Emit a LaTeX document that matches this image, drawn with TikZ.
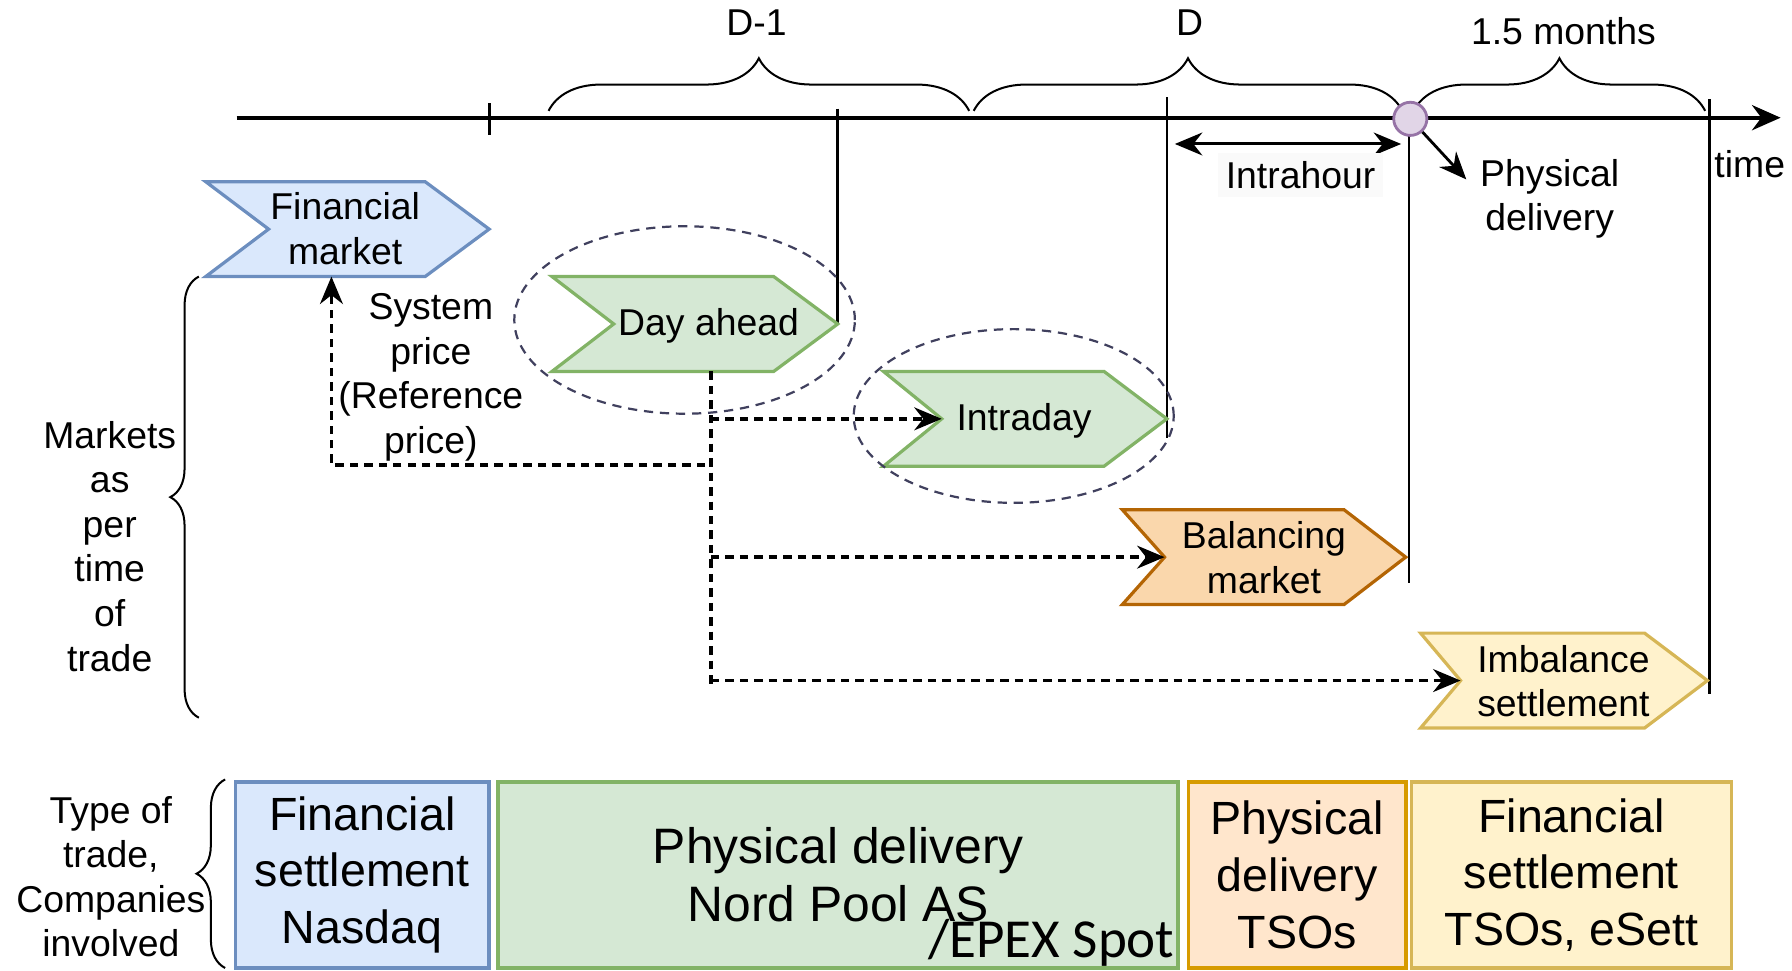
\documentclass[tikz,border=0pt]{standalone}
\usepackage{fontspec}
\setmainfont{Liberation Sans}
\newfontfamily\calibri{Carlito}
\usetikzlibrary{arrows.meta,decorations.pathreplacing}
\definecolor{finfill}{HTML}{DAE8FC}
\definecolor{finline}{HTML}{6C8EBF}
\definecolor{grnfill}{HTML}{D5E8D4}
\definecolor{grnline}{HTML}{82B366}
\definecolor{orgfill}{HTML}{FAD7AC}
\definecolor{orgline}{HTML}{B46504}
\definecolor{tsofill}{HTML}{FFE6CC}
\definecolor{tsoline}{HTML}{D79B00}
\definecolor{yelfill}{HTML}{FFF2CC}
\definecolor{yelline}{HTML}{D6B656}
\definecolor{purfill}{HTML}{E1D5E7}
\definecolor{purline}{HTML}{9673A6}
\definecolor{ringc}{HTML}{40405E}
\tikzset{
  chev/.style={line width=0.8pt,line join=miter},
  lbl/.style={align=center,inner sep=1pt},
  flow/.style={dash pattern=on 2.1pt off 1.5pt,line width=0.85pt},
  ring/.style={draw=ringc,dash pattern=on 2.3pt off 1.7pt,line width=0.55pt},
  curly/.style={decorate,decoration={brace,amplitude=#1},line width=0.5pt},
  boxsmall/.style={draw,line width=0.9pt,align=center,inner sep=0pt,font=\fontsize{11.6}{14.1}\selectfont},
}

\begin{document}
\begin{tikzpicture}[>={Stealth[length=2.4mm,width=2mm]},font=\fontsize{9.3}{11.1}\selectfont,line cap=butt]
\useasboundingbox (0,0) rectangle (15.68,8.49);
% time axis
\draw[line width=0.9pt,-{Stealth[length=2.5mm,width=2.2mm]}] (2.07,7.46) -- (15.58,7.46);
\draw[line width=0.7pt] (4.28,7.31) -- (4.28,7.59);
\node[lbl] (time) at (15.31,7.05) {time};
\draw[curly=0.46cm] (4.80,7.52) -- (8.48,7.52);
\draw[curly=0.46cm] (8.52,7.52) -- (12.27,7.52);
\draw[curly=0.46cm] (12.37,7.52) -- (14.92,7.52);
\node[lbl] (dm1) at (6.62,8.29) {D-1};
\node[lbl] (dday) at (10.41,8.29) {D};
\node[lbl] (months) at (13.68,8.22) {1.5 months};
% gate closures
\draw[line width=0.7pt] (7.33,7.54) -- (7.33,5.66);
\draw[line width=0.6pt] (10.21,7.64) -- (10.21,4.66);
\draw[line width=0.6pt] (12.33,7.46) -- (12.33,3.39);
\draw[line width=0.7pt] (14.96,7.62) -- (14.96,2.42);
\node[circle,draw=purline,fill=purfill,line width=0.7pt,minimum size=0.29cm,inner sep=0pt] (deliv) at (12.34,7.45) {};
\coordinate (pdtip) at (12.83,6.92);
\draw[->,line width=0.7pt] (deliv) -- (pdtip);
\node[lbl] (physdel) at (13.56,6.75) {Physical\\delivery};
\coordinate (ihl) at (10.28,7.23);
\coordinate (ihr) at (12.26,7.23);
\draw[<->,line width=0.75pt] (ihl) -- (ihr);
\node[lbl,fill=gray!4,inner sep=2pt] (intrahour) at (11.38,6.96) {Intrahour};
% markets
\filldraw[chev,fill=finfill,draw=finline] (1.80,6.90) -- (3.72,6.90) -- (4.28,6.485) -- (3.72,6.07) -- (1.80,6.07) -- (2.35,6.485) -- cycle;
\node[lbl] (fin) at (3.02,6.49) {Financial\\market};
\coordinate (finout) at (2.90,6.07);
\filldraw[chev,fill=grnfill,draw=grnline] (4.83,6.07) -- (6.77,6.07) -- (7.33,5.655) -- (6.77,5.24) -- (4.83,5.24) -- (5.37,5.655) -- cycle;
\node[lbl] (dayahead) at (6.20,5.64) {Day ahead};
\filldraw[chev,fill=grnfill,draw=grnline] (7.73,5.24) -- (9.66,5.24) -- (10.21,4.825) -- (9.66,4.41) -- (7.73,4.41) -- (8.24,4.825) -- cycle;
\node[lbl] (intraday) at (8.96,4.81) {Intraday};
\coordinate (intrain) at (8.24,4.825);
\filldraw[chev,fill=orgfill,draw=orgline] (9.82,4.03) -- (11.76,4.03) -- (12.30,3.615) -- (11.76,3.20) -- (9.82,3.20) -- (10.19,3.615) -- cycle;
\node[lbl] (balancing) at (11.06,3.61) {Balancing\\market};
\coordinate (balin) at (10.19,3.615);
\filldraw[chev,fill=yelfill,draw=yelline] (12.43,2.95) -- (14.39,2.95) -- (14.94,2.535) -- (14.39,2.12) -- (12.43,2.12) -- (12.78,2.535) -- cycle;
\node[lbl] (imbalance) at (13.68,2.53) {Imbalance\\settlement};
\coordinate (imbin) at (12.78,2.535);
\draw[ring] (5.99,5.69) ellipse (1.49 and 0.82);
\draw[ring] (8.87,4.85) ellipse (1.40 and 0.76);
% day ahead price flows
\coordinate (hub) at (6.22,5.24);
\coordinate (hubend) at (6.22,2.49);
\coordinate (ref) at (6.17,4.42);
\draw[flow] (hub) -- (hubend);
\draw[flow,->] (ref) -| (finout);
\draw[flow,->] (hub |- intrain) -- (intrain);
\draw[flow,->] (hub |- balin) -- (balin);
\draw[flow,->] (hub |- imbin) -- (imbin);
\node[lbl] (sysprice) at (3.77,5.19) {System\\price\\(Reference\\price)};
\node[lbl] (markets) at (0.96,3.71) {Markets\\as\\per\\time\\of\\trade};
\draw[curly=0.25cm] (1.74,2.21) -- (1.74,6.07);
% companies
\node[lbl] (trade) at (0.97,0.82) {Type of\\trade,\\Companies\\involved};
\draw[curly=0.25cm] (1.97,0.02) -- (1.97,1.67);
\node[boxsmall,draw=finline,fill=finfill,minimum width=2.22cm,minimum height=1.63cm] (nasdaq) at (3.17,0.835) {Financial\\settlement\\Nasdaq};
\node[boxsmall,draw=grnline,fill=grnfill,minimum width=5.95cm,minimum height=1.63cm,font=\fontsize{12.4}{14.5}\selectfont] (nordpool) at (7.335,0.835) {Physical delivery\\Nord Pool AS};
\node[inner sep=0pt,font=\calibri\fontsize{13.7}{15}\selectfont] (epex) at (9.20,0.24) {/EPEX Spot};
\node[boxsmall,draw=tsoline,fill=tsofill,minimum width=1.90cm,minimum height=1.63cm] (tsos) at (11.35,0.835) {Physical\\delivery\\TSOs};
\node[boxsmall,draw=yelline,fill=yelfill,minimum width=2.80cm,minimum height=1.63cm] (esett) at (13.75,0.835) {Financial\\settlement\\TSOs, eSett};
\end{tikzpicture}
\end{document}
